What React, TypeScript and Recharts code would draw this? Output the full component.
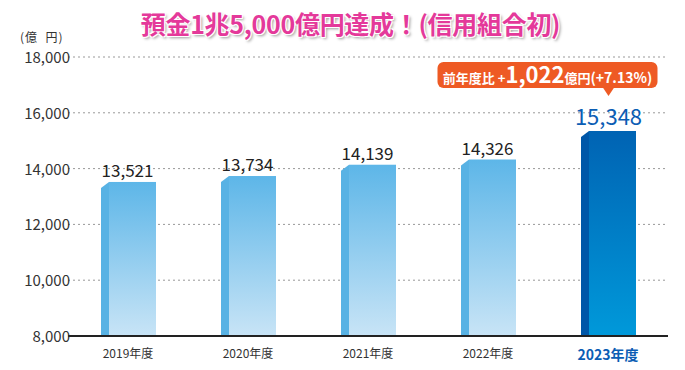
import { Bar, BarChart, CartesianGrid, LabelList, XAxis, YAxis } from "recharts";

const categories = ["2019年度", "2020年度", "2021年度", "2022年度", "2023年度"];
const deposits = [13521, 13734, 14139, 14326, 15348];
const yTicks = [8000, 10000, 12000, 14000, 16000, 18000];
const highlightIndex = 4;

const chartData = categories.map((year, i) => ({
  year,
  value: deposits[i],
  highlight: i === highlightIndex,
}));

const FONT = "'Noto Sans CJK JP', 'Noto Sans', sans-serif";
const SIDE = 8;

// 3D-ish bar: slanted side stripe on the left + gradient front
function DepositBar(props: any) {
  const { x, y, width, height, payload } = props;
  if (height <= 0) return null;
  const hi = payload?.highlight;
  const bottom = y + height;
  return (
    <g>
      <path
        d={`M${x},${y + 6} L${x + SIDE},${y} L${x + SIDE},${bottom} L${x},${bottom} Z`}
        fill={hi ? "#0057a8" : "#58b2e4"}
      />
      <rect
        x={x + SIDE}
        y={y}
        width={width - SIDE}
        height={height}
        fill={hi ? "url(#gradHi)" : "url(#gradNormal)"}
      />
    </g>
  );
}

function ValueLabel(props: any) {
  const { x, y, width, index, value } = props;
  const cx = x + width / 2;
  if (index === highlightIndex) {
    const top = y - 69;
    const left = cx - 171;
    return (
      <g>
        <rect x={left} y={top} width={220} height={26} rx={6} fill="#ee5a24" />
        <path
          d={`M${cx - 6},${top + 25} L${cx + 6},${top + 25} L${cx},${top + 34} Z`}
          fill="#ee5a24"
        />
        <text
          x={left + 110}
          y={top + 21}
          textAnchor="middle"
          fill="#fff"
          fontFamily={FONT}
          fontWeight="bold"
        >
          <tspan fontSize={13}>前年度比 +</tspan>
          <tspan fontSize={22}>{"1,022"}</tspan>
          <tspan fontSize={13}>億円</tspan>
          <tspan fontSize={14}>(+7.13%)</tspan>
        </text>
        <text
          x={cx}
          y={y - 6}
          textAnchor="middle"
          fill="#0b5db4"
          fontSize={22}
          fontFamily={FONT}
        >
          {value.toLocaleString("en-US")}
        </text>
      </g>
    );
  }
  return (
    <text
      x={cx - 1}
      y={y - 5}
      textAnchor="middle"
      fill="#222"
      fontSize={17}
      fontFamily={FONT}
    >
      {value.toLocaleString("en-US")}
    </text>
  );
}

function YearTick(props: any) {
  const { x, y, payload, index } = props;
  const hi = index === highlightIndex;
  return (
    <text
      x={x}
      y={y + (hi ? 16 : 14)}
      textAnchor="middle"
      fill={hi ? "#0b5db4" : "#333"}
      fontSize={hi ? 14 : 12}
      fontWeight={hi ? "bold" : "normal"}
      fontFamily={FONT}
    >
      {payload.value}
    </text>
  );
}

function AmountTick(props: any) {
  const { y, payload } = props;
  return (
    <text
      x={70}
      y={y + 6}
      textAnchor="end"
      fill="#333"
      fontSize={15}
      fontFamily={FONT}
    >
      {payload.value.toLocaleString("en-US")}
    </text>
  );
}

export default function App() {
  return (
    <div
      style={{
        position: "absolute",
        left: 0,
        top: 0,
        width: 685,
        height: 370,
        background: "#fff",
        fontFamily: FONT,
      }}
    >
      <div
        style={{
          position: "absolute",
          left: 0,
          width: 685,
          top: 8,
          textAlign: "center",
          fontSize: 25,
          lineHeight: 1.2,
          fontWeight: "bold",
          color: "#e4399a",
          letterSpacing: -0.3,
          textShadow:
            "1px 1px 0 #fff, -1px -1px 0 #fff, 1px -1px 0 #fff, -1px 1px 0 #fff, 2px 2px 3px rgba(0,0,0,0.4)",
          paddingLeft: 8,
        }}
      >
        預金1兆5,000億円達成！(信用組合初)
      </div>
      <div
        style={{
          position: "absolute",
          left: 20,
          top: 31,
          fontSize: 12,
          lineHeight: 1,
          letterSpacing: 1,
          color: "#333",
        }}
      >
        (億&nbsp;&nbsp;円)
      </div>
      <BarChart
        width={685}
        height={370}
        data={chartData}
        margin={{ top: 57, right: 17, bottom: 0, left: 0 }}
        barSize={55}
      >
        <defs>
          <linearGradient id="gradNormal" x1="0" y1="0" x2="0" y2="1">
            <stop offset="0%" stopColor="#5db6e8" />
            <stop offset="100%" stopColor="#c8e4f6" />
          </linearGradient>
          <linearGradient id="gradHi" x1="0" y1="0" x2="0" y2="1">
            <stop offset="0%" stopColor="#0063b3" />
            <stop offset="100%" stopColor="#0099da" />
          </linearGradient>
        </defs>
        <CartesianGrid
          vertical={false}
          stroke="#999"
          strokeDasharray="2 3"
        />
        <XAxis
          dataKey="year"
          height={34}
          axisLine={{ stroke: "#222", strokeWidth: 2 }}
          tickLine={false}
          tick={<YearTick />}
          interval={0}
        />
        <YAxis
          width={68}
          domain={[8000, 18000]}
          ticks={yTicks}
          axisLine={false}
          tickLine={false}
          tick={<AmountTick />}
        />
        <Bar dataKey="value" shape={<DepositBar />} isAnimationActive={false}>
          <LabelList dataKey="value" content={<ValueLabel />} />
        </Bar>
      </BarChart>
    </div>
  );
}
